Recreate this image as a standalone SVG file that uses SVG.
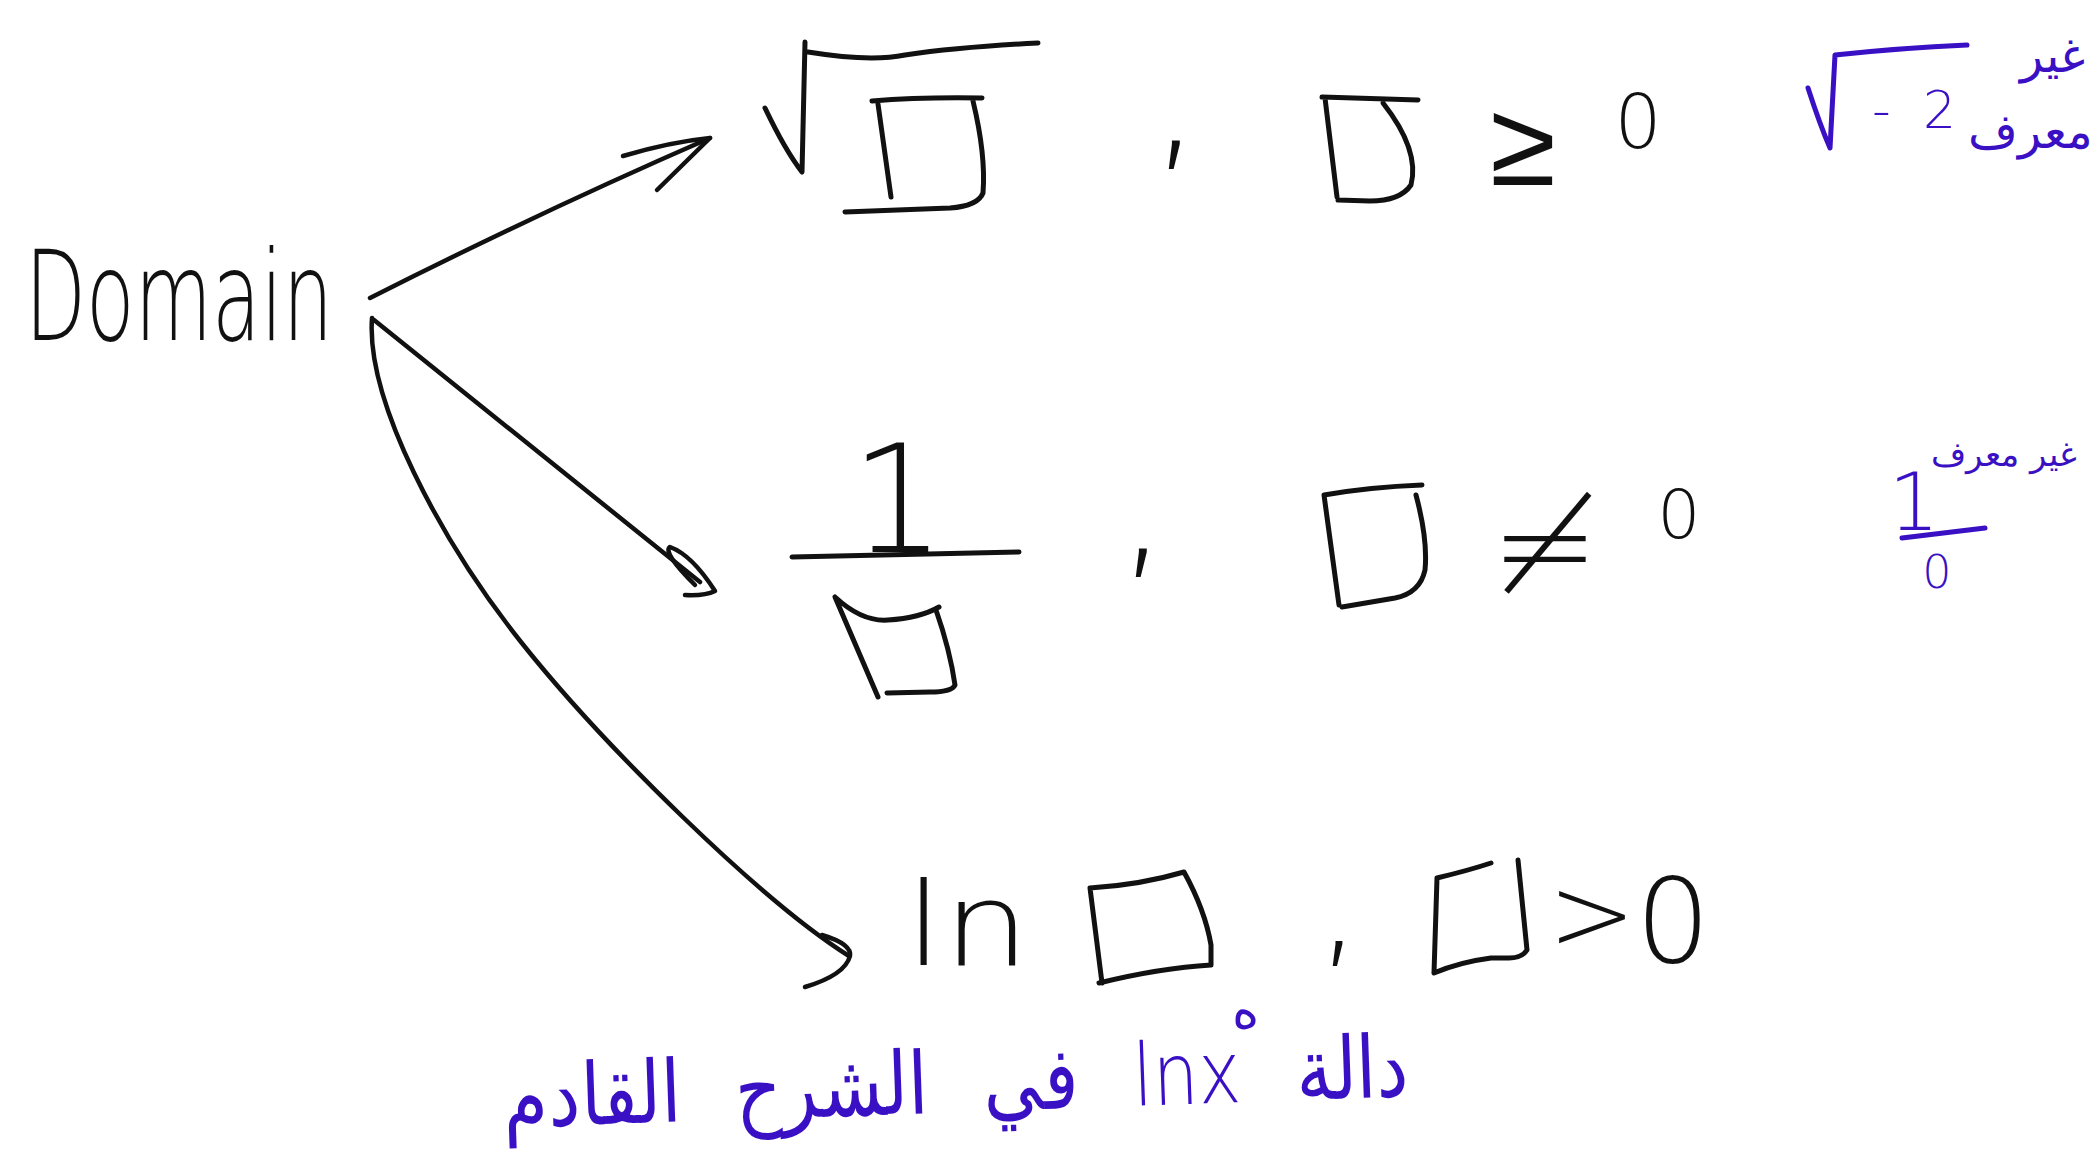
<svg xmlns="http://www.w3.org/2000/svg" width="2096" height="1160" viewBox="0 0 2096 1160">
<style>
.bg{fill:#ffffff}
.ink{fill:none;stroke:#111;stroke-width:5;stroke-linecap:round;stroke-linejoin:round}
.con{fill:none;stroke:#111;stroke-width:4.5;stroke-linecap:round;stroke-linejoin:round}
.blue{fill:none;stroke:#3a10c4;stroke-width:5;stroke-linecap:round;stroke-linejoin:round}
.t{font-family:"DejaVu Sans","Liberation Sans",sans-serif;font-weight:200;fill:#111}
.ar{font-family:"DejaVu Sans","Noto Sans",sans-serif;font-weight:200;fill:#3a10c4}
.rtl{direction:rtl;unicode-bidi:embed}
</style>
<rect class="bg" x="0" y="0" width="2096" height="1160"/>

<g id="connectors">
  <path class="con" d="M370,298 Q540,212 710,138"/>
  <path class="con" d="M623,156 Q670,142 710,138 L657,190"/>
  <path class="con" d="M374,320 L700,582"/>
  <path class="con" d="M695,585 Q662,552 670,547 Q692,555 715,591 Q705,596 685,595"/>
  <path class="con" d="M372,318 C366,400 440,540 521,642 S760,900 849,956"/>
  <path class="con" d="M822,935 Q852,944 850,956 Q845,975 805,987"/>
</g>

<g id="node-domain">
  <text class="t" x="25" y="340" font-size="125" textLength="308" lengthAdjust="spacingAndGlyphs">Domain</text>
</g>

<g id="node-sqrt">
  <path class="ink" d="M765,108 Q785,150 802,172 L805,42 M808,52 Q870,62 905,55 Q960,47 1038,43"/>
  <path class="ink" d="M872,101 Q920,97 982,98 M878,104 L891,197 M973,101 Q986,155 983,193 Q978,206 950,208 L845,212"/>
  <text class="t" x="1176" y="150" font-size="160" text-anchor="middle">,</text>
  <path class="ink" d="M1322,97 L1418,100 M1325,98 L1337,197 M1383,103 Q1420,150 1411,185 Q1400,201 1370,201 L1338,200"/>
  <text class="t" x="1523" y="185" font-size="120" text-anchor="middle">≥</text>
  <text class="t" x="1638" y="148" font-size="74" text-anchor="middle">0</text>
</g>

<g id="node-frac">
  <text class="t" x="898" y="552" font-size="150" text-anchor="middle">1</text>
  <path class="ink" d="M792,557 L1019,552"/>
  <path class="ink" d="M835,597 L878,697 M835,597 Q862,622 888,620 Q920,618 939,607 M936,610 Q950,650 955,685 Q952,692 930,692 L887,693"/>
  <text class="t" x="1143" y="558" font-size="160" text-anchor="middle">,</text>
  <path class="ink" d="M1324,495 Q1370,487 1422,485 M1324,495 L1339,605 M1416,495 Q1428,540 1425,570 Q1420,593 1395,598 L1342,607"/>
  <text class="t" x="1545" y="590" font-size="130" text-anchor="middle">≠</text>
  <text class="t" x="1679" y="538" font-size="68" text-anchor="middle">0</text>
</g>

<g id="node-ln">
  <text class="t" x="905" y="965" font-size="116" textLength="125" lengthAdjust="spacingAndGlyphs">ln</text>
  <path class="ink" d="M1090,888 Q1140,885 1184,872 M1090,888 L1102,983 M1184,872 Q1205,910 1211,945 L1211,965 M1099,983 Q1160,968 1211,965"/>
  <text class="t" x="1339" y="950" font-size="140" text-anchor="middle">,</text>
  <path class="ink" d="M1437,878 Q1470,870 1491,863 M1437,878 L1434,973 M1518,860 L1527,950 Q1522,958 1509,958 L1491,958 Q1460,962 1434,973"/>
  <text class="t" x="1592" y="950" font-size="105" text-anchor="middle">&gt;</text>
  <text class="t" x="1673" y="962" font-size="118" text-anchor="middle">0</text>
</g>

<g id="note-sqrt">
  <path class="blue" d="M1808,88 Q1820,125 1830,148 L1835,55 Q1900,48 1967,45"/>
  <text class="ar" x="1872" y="128" font-size="52" textLength="84" lengthAdjust="spacing">-2</text>
  <text class="ar rtl" font-size="48" text-anchor="middle"><tspan x="2052" y="72">غير</tspan><tspan x="2030" y="148">معرف</tspan></text>
</g>

<g id="note-frac">
  <text class="ar" x="1914" y="530" font-size="80" text-anchor="middle">1</text>
  <path class="blue" d="M1902,538 L1985,528"/>
  <text class="ar" x="1937" y="588" font-size="46" text-anchor="middle">0</text>
  <text class="ar rtl" x="2004" y="466" font-size="34" text-anchor="middle">غير معرف</text>
</g>

<g id="note-ln">
  <text class="ar" x="1245" y="1028" font-size="52" text-anchor="middle">ه</text>
  <text class="ar rtl" x="0" y="0" font-size="72" text-anchor="middle" word-spacing="32" transform="translate(957,1112) rotate(-2) scale(1,1.2)">دالة lnx في الشرح القادم</text>
</g>
</svg>
